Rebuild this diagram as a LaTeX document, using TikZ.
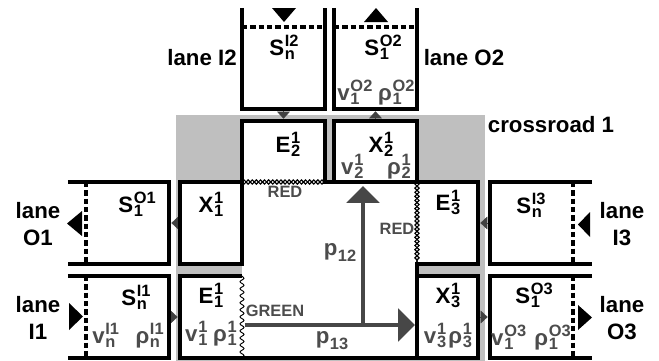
\documentclass[tikz,border=0pt]{standalone}
\usepackage{fontspec}
\setmainfont{Liberation Sans}
\usetikzlibrary{arrows.meta,decorations.pathmorphing}

\newcommand{\ixfont}{\fontsize{14}{14}\selectfont}
\newsavebox{\lvsub}
\newsavebox{\lvsup}
\newlength{\lvwd}
\newcommand{\lv}[3]{#1\kern.6pt%
  \sbox{\lvsub}{\ixfont#2}\sbox{\lvsup}{\ixfont#3}%
  \setlength{\lvwd}{\wd\lvsub}%
  \ifdim\wd\lvsup>\lvwd \setlength{\lvwd}{\wd\lvsup}\fi
  \makebox[\lvwd][l]{\rlap{\raisebox{-.22em}{\usebox{\lvsub}}}\rlap{\raisebox{.38em}{\usebox{\lvsup}}}}}

\begin{document}
\begin{tikzpicture}[x=0.03cm, y=-0.03cm,
    box/.style={rectangle, inner sep=0pt, outer sep=0pt, fill=white},
    wall/.style={draw, line width=3pt},
    stopline/.style={draw, line width=2.8pt, line cap=butt, dash pattern=on 4.5pt off 2.6pt},
    lbl/.style={font=\fontsize{19}{23}\selectfont\bfseries, inner sep=0pt, anchor=base},
    qty/.style={lbl, text=black!70},
    lane/.style={font=\fontsize{19}{23}\selectfont\bfseries, inner sep=0pt, align=center},
    signal/.style={font=\fontsize{14}{14}\selectfont\bfseries, text=black!70, inner sep=0pt},
    flow/.style={draw=black!75, line width=0.4pt, -{Triangle[length=6pt,width=11pt]}, shorten >=2pt, shorten <=2pt},
    route/.style={draw=black!72, line width=2.6pt, -{Triangle[length=14.5pt,width=28pt]}},
    greenlight/.style={draw, line width=0.8pt, decorate, decoration={snake, segment length=6pt, amplitude=1.7pt}},
    redlight/.style={draw, line width=1pt, decorate, decoration={zigzag, segment length=7pt, amplitude=1.8pt}}
]
    \useasboundingbox (0,0) rectangle (659,361);
    \fill[black!25] (176,115) rectangle (485,361);

    % lanes
    \node [box, minimum width=2.49cm, minimum height=3.03cm] (SI2) at (283.5,58.5) {};
    \node [box, minimum width=2.49cm, minimum height=3.03cm] (SO2) at (375.5,58.5) {};
    \node [box, minimum width=3.03cm, minimum height=2.46cm] (SO1) at (118.5,223) {};
    \node [box, minimum width=3.03cm, minimum height=2.46cm] (SI1) at (118.5,317) {};
    \node [box, minimum width=3.06cm, minimum height=2.46cm] (SI3) at (541,223) {};
    \node [box, minimum width=3.06cm, minimum height=2.46cm] (SO3) at (541,317) {};

    % crossroad cells
    \node [box, minimum width=2.49cm, minimum height=1.83cm] (E2) at (283.5,151.5) {};
    \node [box, minimum width=2.49cm, minimum height=1.83cm] (X2) at (375.5,151.5) {};
    \node [box, minimum width=1.86cm, minimum height=2.46cm] (X1) at (211,223) {};
    \node [box, minimum width=1.86cm, minimum height=2.46cm] (E1) at (211,317) {};
    \node [box, minimum width=1.83cm, minimum height=2.46cm] (E3) at (447.5,223) {};
    \node [box, minimum width=1.83cm, minimum height=2.46cm] (X3) at (447.5,317) {};
    \fill[white] (E2.south west) rectangle (X3.south west);

    \draw [flow] (SI2.south) -- (E2.north);
    \draw [flow] (X2.north) -- (SO2.south);
    \draw [flow] (X1.west) -- (SO1.east);
    \draw [flow] (SI1.east) -- (E1.west);
    \draw [flow] (SI3.west) -- (E3.east);
    \draw [flow] (X3.east) -- (SO3.west);

    \draw [wall] (SI2.north west) -- (SI2.south west) -- (SI2.south east) -- (SI2.north east);
    \draw [wall] (SO2.north west) -- (SO2.south west) -- (SO2.south east) -- (SO2.north east);
    \draw [wall] (SO1.north west) -- (SO1.north east) -- (SO1.south east) -- (SO1.south west);
    \draw [wall] (SI1.north west) -- (SI1.north east) -- (SI1.south east) -- (SI1.south west);
    \draw [wall] (SI3.north east) -- (SI3.north west) -- (SI3.south west) -- (SI3.south east);
    \draw [wall] (SO3.north east) -- (SO3.north west) -- (SO3.south west) -- (SO3.south east);
    \draw [stopline] (242,27) -- (325,27);
    \draw [stopline] (334,27) -- (417,27);
    \draw [stopline] (86,182) -- (86,264);
    \draw [stopline] (86,276) -- (86,358);
    \draw [stopline] (573,182) -- (573,264);
    \draw [stopline] (573,276) -- (573,358);
    \fill (272,8) -- (296,8) -- (284,22) -- cycle;
    \fill (364,22) -- (388,22) -- (376,8) -- cycle;
    \fill (67,223.5) -- (82,211) -- (82,236) -- cycle;
    \fill (69,303) -- (83,316.5) -- (69,330) -- cycle;
    \fill (578,224.5) -- (590,212) -- (590,237) -- cycle;
    \fill (578,305) -- (592,317.5) -- (578,330) -- cycle;

    \draw [wall] (X1.north west) rectangle (X1.south east);
    \draw [wall] (X2.north west) rectangle (X2.south east);
    \draw [wall] (X3.north west) rectangle (X3.south east);
    \draw [wall] (E2.south west) -- (E2.north west) -- (E2.north east) -- (E2.south east) -- (X2.south west);
    \draw [wall] (E3.north west) -- (E3.north east) -- (E3.south east) -- (E3.south west) -- (X3.north west);
    \draw [wall] (E1.north east) -- (E1.north west) -- (E1.south west) -- (X3.south west);
    \draw [greenlight] (E1.north east) -- (E1.south east);
    \draw [redlight] (E2.south west) -- (E2.south east);
    \draw [redlight, decoration={mirror}] (E2.south west) -- (E2.south east);
    \draw [redlight] (E3.north west) -- (E3.south west);
    \draw [redlight, decoration={mirror}] (E3.north west) -- (E3.south west);

    \coordinate (turn) at (363,325);
    \draw [route, shorten >=3.4pt] (turn) -- (turn |- X2.south);
    \draw [route, shorten <=2.5pt, shorten >=1.7pt] (E1.east |- turn) -- (X3.west |- turn);

    \node [lbl] (laneI2) at (202,65) {lane I2};
    \node [lbl] (laneO2) at (464,65) {lane O2};
    \node [lbl] (crossroad) at (551,132) {crossroad 1};
    \node [lane] (laneO1) at (38,224) {lane\\O1};
    \node [lane] (laneI1) at (38,318) {lane\\I1};
    \node [lane] (laneI3) at (622,224) {lane\\I3};
    \node [lane] (laneO3) at (622,318) {lane\\O3};

    \node [lbl] (tSI2) at (284,55) {\lv{S}{n}{I2}};
    \node [lbl] (tSO2) at (383,55) {\lv{S}{1}{O2}};
    \node [qty] (qSO2) at (376,100) {\lv{v}{1}{O2}\hspace{5pt}\lv{ρ}{1}{O2}};
    \node [lbl] (tE2) at (288,152) {\lv{E}{2}{1}};
    \node [lbl] (tX2) at (381,152) {\lv{X}{2}{1}};
    \node [qty, anchor=base west] (qvX2) at (341,174) {\lv{v}{2}{1}};
    \node [qty, anchor=base west] (qrX2) at (387,174) {\lv{ρ}{2}{1}};
    \node [lbl] (tX1) at (211,212) {\lv{X}{1}{1}};
    \node [lbl] (tE1) at (211,303) {\lv{E}{1}{1}};
    \node [qty] (qE1) at (211,341) {\lv{v}{1}{1}\hspace{5pt}\lv{ρ}{1}{1}};
    \node [lbl] (tE3) at (448,210) {\lv{E}{3}{1}};
    \node [lbl] (tX3) at (448,303) {\lv{X}{3}{1}};
    \node [qty] (qX3) at (448,343) {\lv{v}{3}{1}\hspace{2pt}\lv{ρ}{3}{1}};
    \node [lbl] (tSO1) at (137,212) {\lv{S}{1}{O1}};
    \node [lbl] (tSI1) at (136,305) {\lv{S}{n}{I1}};
    \node [qty] (qSI1) at (128,343) {\lv{v}{n}{I1}\hspace{14pt}\lv{ρ}{n}{I1}};
    \node [lbl] (tSI3) at (531,213) {\lv{S}{n}{I3}};
    \node [lbl] (tSO3) at (534,303) {\lv{S}{1}{O3}};
    \node [qty] (qSO3) at (531,345) {\lv{v}{1}{O3}\hspace{7pt}\lv{ρ}{1}{O3}};

    \node [signal] (redN) at (285,192) {RED};
    \node [signal] (redE) at (397,229) {RED};
    \node [signal] (greenW) at (275,311) {GREEN};
    \node [qty] (p12) at (340,255) {p\kern.5pt\raisebox{-.3em}{\ixfont 12}};
    \node [qty] (p13) at (332,343) {p\kern.5pt\raisebox{-.3em}{\ixfont 13}};
\end{tikzpicture}
\end{document}
